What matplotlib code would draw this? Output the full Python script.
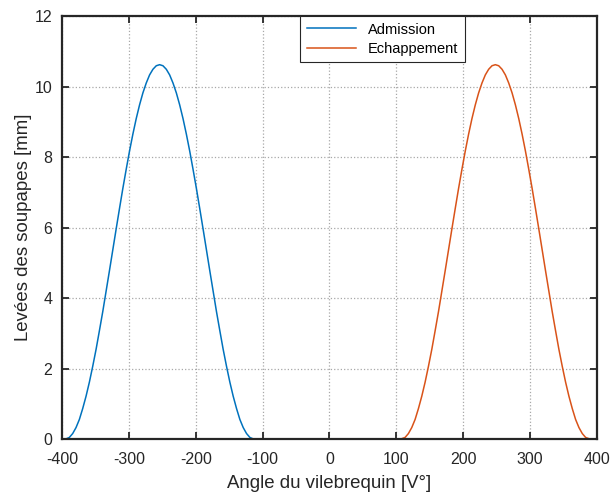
import matplotlib.pyplot as plt
import numpy as np

plt.rcParams['font.family'] = ['Liberation Sans', 'DejaVu Sans']
plt.rcParams['axes.unicode_minus'] = False

# Admission valve lift
angle_adm = np.array([
    -395, -389, -384, -379, -374, -369, -364, -359, -354, -349,
    -344, -339, -334, -329, -324, -319, -314, -309, -304, -299,
    -294, -289, -284, -279, -274, -269, -264, -259, -254, -249,
    -244, -239, -234, -229, -224, -219, -214, -209, -204, -199,
    -194, -189, -184, -179, -174, -169, -164, -159, -154, -149,
    -144, -139, -134, -129, -124, -119, -113])
lift_adm = np.array([
    0.00, 0.05, 0.16, 0.33, 0.56, 0.87, 1.22, 1.62, 2.07, 2.55,
    3.08, 3.62, 4.20, 4.78, 5.37, 5.96, 6.54, 7.11, 7.65, 8.17,
    8.65, 9.09, 9.48, 9.82, 10.10, 10.33, 10.49, 10.59, 10.62, 10.59,
    10.49, 10.33, 10.10, 9.82, 9.48, 9.09, 8.65, 8.17, 7.65, 7.11,
    6.54, 5.96, 5.37, 4.78, 4.20, 3.62, 3.08, 2.55, 2.07, 1.62,
    1.22, 0.87, 0.56, 0.33, 0.16, 0.05, 0.00])

# Exhaust valve lift
angle_ech = np.array([
    106, 113, 118, 123, 128, 133, 138, 143, 148, 153,
    158, 163, 168, 173, 178, 183, 188, 193, 198, 203,
    208, 213, 218, 223, 228, 233, 238, 243, 248, 253,
    258, 263, 268, 273, 278, 283, 288, 293, 298, 303,
    308, 313, 318, 323, 328, 333, 338, 343, 348, 353,
    358, 363, 368, 373, 378, 383, 390])
lift_ech = np.array([
    0.00, 0.05, 0.16, 0.33, 0.56, 0.87, 1.22, 1.62, 2.07, 2.55,
    3.08, 3.62, 4.20, 4.78, 5.37, 5.96, 6.54, 7.11, 7.65, 8.17,
    8.65, 9.09, 9.48, 9.82, 10.10, 10.33, 10.49, 10.59, 10.62, 10.59,
    10.49, 10.33, 10.10, 9.82, 9.48, 9.09, 8.65, 8.17, 7.65, 7.11,
    6.54, 5.96, 5.37, 4.78, 4.20, 3.62, 3.08, 2.55, 2.07, 1.62,
    1.22, 0.87, 0.56, 0.33, 0.16, 0.05, 0.00])

x_ticks = [-400, -300, -200, -100, 0, 100, 200, 300, 400]
y_ticks = [0, 2, 4, 6, 8, 10, 12]

fig = plt.figure(figsize=(6.1, 4.93), dpi=100)
ax = fig.add_axes([0.1016, 0.1091, 0.8771, 0.8584])

ax.plot(angle_adm, lift_adm, color='#0072BD', lw=1.1, label='Admission')
ax.plot(angle_ech, lift_ech, color='#D95319', lw=1.1, label='Echappement')

ax.set_xlim(-400, 400)
ax.set_ylim(0, 12)
ax.set_xticks(x_ticks)
ax.set_yticks(y_ticks)
ax.grid(True, color='#a8a8a8', linestyle=':', lw=0.9)
ax.set_axisbelow(True)
for s in ax.spines.values():
    s.set_linewidth(1.6)
    s.set_color('#262626')
ax.tick_params(direction='in', length=5, width=1.3, top=True, right=True,
               labelsize=11.5, colors='#262626')
ax.tick_params(axis='x', pad=9)
ax.tick_params(axis='y', pad=7)

ax.set_xlabel('Angle du vilebrequin [V°]', fontsize=13.4, color='#262626', labelpad=6)
ax.set_ylabel('Levées des soupapes [mm]', fontsize=13.4, color='#262626', labelpad=2)

leg = ax.legend(loc='upper center', bbox_to_anchor=(0.599, 1.0), borderaxespad=0,
                fontsize=10.5, handlelength=3.4, fancybox=False, framealpha=1,
                edgecolor='#262626', borderpad=0.45, labelspacing=0.35)
leg.get_frame().set_linewidth(0.8)

fig.savefig('out.png', dpi=100)
